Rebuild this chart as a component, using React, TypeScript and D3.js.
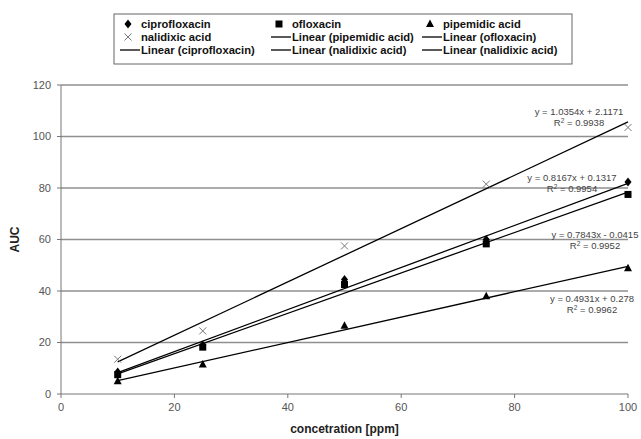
import React from "react";
import * as d3 from "d3";

const xValues = [10, 25, 50, 75, 100];
const ciprofloxacin = [8.5, 19, 44.5, 60, 82.3];
const ofloxacin = [7.5, 18.2, 42.5, 58.3, 77.5];
const pipemidic = [5, 11.5, 26.5, 38, 48.8];
const nalidixic = [13.5, 24.5, 57.5, 81.5, 103.5];

const xTicks = [0, 20, 40, 60, 80, 100];
const yTicks = [0, 20, 40, 60, 80, 100, 120];

// trendline coefficients (slope, intercept)
const fitCipro = [0.8167, 0.1317];
const fitOflox = [0.7843, -0.0415];
const fitPipe = [0.4931, 0.278];
const fitNali = [1.0354, 2.1171];

const eqCipro = ["y = 0.8167x + 0.1317", "0.9954"];
const eqOflox = ["y = 0.7843x - 0.0415", "0.9952"];
const eqPipe = ["y = 0.4931x + 0.278", "0.9962"];
const eqNali = ["y = 1.0354x + 2.1171", "0.9938"];

const W = 641, H = 439;
const L = 61, R = 628, T = 85, B = 394;

const FONT = "'Liberation Sans', Arial, sans-serif";

function Marker({ type, x, y }: { type: string; x: number; y: number }) {
  if (type === "diamond") {
    return <path d={`M${x},${y - 4.5}L${x + 3.5},${y}L${x},${y + 4.5}L${x - 3.5},${y}Z`} fill="#000" />;
  }
  if (type === "square") {
    return <rect x={x - 3.5} y={y - 3.5} width={7} height={7} fill="#000" />;
  }
  if (type === "triangle") {
    return <path d={`M${x},${y - 4.5}L${x + 4},${y + 3}L${x - 4},${y + 3}Z`} fill="#000" />;
  }
  return (
    <g stroke="#777" strokeWidth={1}>
      <line x1={x - 3.5} y1={y - 3.5} x2={x + 3.5} y2={y + 3.5} />
      <line x1={x - 3.5} y1={y + 3.5} x2={x + 3.5} y2={y - 3.5} />
    </g>
  );
}

export default function App() {
  const x = d3.scaleLinear().domain([0, 100]).range([L, R]);
  const y = d3.scaleLinear().domain([0, 120]).range([B, T]);

  const series = [
    { name: "ciprofloxacin", vals: ciprofloxacin, marker: "diamond", fit: fitCipro },
    { name: "ofloxacin", vals: ofloxacin, marker: "square", fit: fitOflox },
    { name: "pipemidic acid", vals: pipemidic, marker: "triangle", fit: fitPipe },
    { name: "nalidixic acid", vals: nalidixic, marker: "x", fit: fitNali },
  ];

  const xMin = xValues[0];
  const xMax = xValues[xValues.length - 1];

  const eqs = [
    { eq: eqNali, cx: 579, y1: 115 },
    { eq: eqCipro, cx: 572, y1: 181 },
    { eq: eqOflox, cx: 595, y1: 238 },
    { eq: eqPipe, cx: 592, y1: 302 },
  ];

  const legendItems = [
    { kind: "diamond", label: "ciprofloxacin", col: 0, row: 0 },
    { kind: "square", label: "ofloxacin", col: 1, row: 0 },
    { kind: "triangle", label: "pipemidic acid", col: 2, row: 0 },
    { kind: "x", label: "nalidixic acid", col: 0, row: 1 },
    { kind: "line", label: "Linear (pipemidic acid)", col: 1, row: 1 },
    { kind: "line", label: "Linear (ofloxacin)", col: 2, row: 1 },
    { kind: "line", label: "Linear (ciprofloxacin)", col: 0, row: 2 },
    { kind: "line", label: "Linear (nalidixic acid)", col: 1, row: 2 },
    { kind: "line", label: "Linear (nalidixic acid)", col: 2, row: 2 },
  ];
  const colText = [141, 292, 443];
  const rowY = [24, 37, 50];

  return (
    <svg
      width={W}
      height={H}
      style={{ position: "absolute", left: 0, top: 0, background: "#fff" }}
      fontFamily={FONT}
    >
      <rect width={W} height={H} fill="#fff" />
      {yTicks.filter((t) => t > 0).map((t) => (
        <line key={t} x1={L} x2={R} y1={y(t)} y2={y(t)} stroke="#8f8f8f" strokeWidth={1.7} />
      ))}
      <line x1={L} x2={L} y1={T} y2={B} stroke="#777" strokeWidth={1} />
      <line x1={L} x2={R} y1={B} y2={B} stroke="#777" strokeWidth={1} />
      {yTicks.map((t) => (
        <g key={"yt" + t}>
          <line x1={L - 4} x2={L} y1={y(t)} y2={y(t)} stroke="#777" />
          <text x={L - 10} y={y(t)} dy="0.35em" textAnchor="end" fontSize={11} fill="#555">
            {t}
          </text>
        </g>
      ))}
      {xTicks.map((t) => (
        <g key={"xt" + t}>
          <line x1={x(t)} x2={x(t)} y1={B} y2={B + 4} stroke="#777" />
          <text x={x(t)} y={B + 17} textAnchor="middle" fontSize={11} fill="#555">
            {t}
          </text>
        </g>
      ))}
      <text
        transform={`translate(19,${(T + B) / 2}) rotate(-90)`}
        textAnchor="middle"
        fontSize={12}
        fontWeight="bold"
        fill="#222"
      >
        AUC
      </text>
      <text x={(L + R) / 2} y={433} textAnchor="middle" fontSize={12} fontWeight="bold" fill="#222">
        concetration [ppm]
      </text>

      {series.map((s) => (
        <line
          key={"fit" + s.name}
          x1={x(xMin)}
          y1={y(s.fit[0] * xMin + s.fit[1])}
          x2={x(xMax)}
          y2={y(s.fit[0] * xMax + s.fit[1])}
          stroke="#000"
          strokeWidth={1.3}
        />
      ))}
      {series.map((s) =>
        s.vals.map((v, i) => <Marker key={s.name + i} type={s.marker} x={x(xValues[i])} y={y(v)} />)
      )}

      {eqs.map((e, i) => (
        <g key={"eq" + i} fontSize={9.5} fill="#444" textAnchor="middle">
          <text x={e.cx} y={e.y1}>
            {e.eq[0]}
          </text>
          <text x={e.cx} y={e.y1 + 11}>
            R<tspan dy={-3} fontSize={6.5}>2</tspan>
            <tspan dy={3}> = {e.eq[1]}</tspan>
          </text>
        </g>
      ))}

      <rect x={114} y={14} width={458} height={50} fill="#fff" stroke="#666" strokeWidth={1} />
      {legendItems.map((it, i) => {
        const tx = colText[it.col];
        const ty = rowY[it.row];
        const sym =
          it.kind === "line" ? (
            <line x1={tx - 21} x2={tx - 1} y1={ty} y2={ty} stroke="#000" strokeWidth={1.3} />
          ) : (
            <Marker type={it.kind} x={tx - 13} y={ty} />
          );
        return (
          <g key={"lg" + i}>
            {sym}
            <text x={tx} y={ty} dy="0.35em" fontSize={11.2} fontWeight="bold" fill="#111">
              {it.label}
            </text>
          </g>
        );
      })}
    </svg>
  );
}
